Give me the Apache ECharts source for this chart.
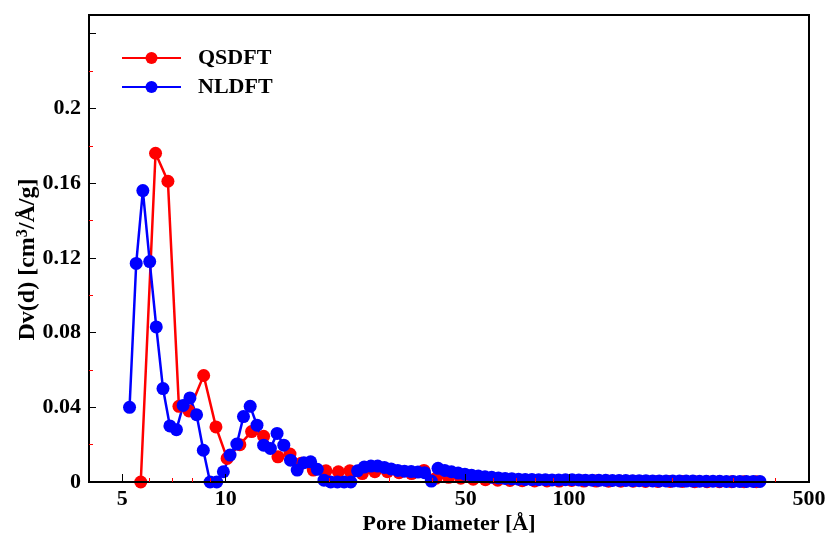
<!DOCTYPE html>
<html>
<head>
<meta charset="utf-8">
<script src="https://cdn.jsdelivr.net/npm/echarts@6/dist/echarts.min.js"></script>
<style>
  html, body { margin: 0; padding: 0; background: #fff; }
  #chart { width: 825px; height: 538px; }
</style>
</head>
<body>
<div id="chart"></div>
<script>
// pore size distribution (diameter in Å, Dv(d) in cm3/Å/g)
const qsdftDiameter = [5.66, 6.25, 6.79, 7.31, 7.82, 8.63, 9.37, 10.1, 11.0, 11.9, 12.9, 14.2, 15.4, 16.6, 18.0, 19.6, 21.3, 23.0, 25.0, 27.2, 29.6, 32.0, 34.8, 37.8, 41.0, 44.6, 48.4, 52.6, 57.1, 62.0, 67.3, 73.1, 79.4, 86.3, 93.7, 101.8, 110.5, 120.0, 130.4, 141.6, 153.8, 167.0, 181.4, 197.0, 214.0, 232.4, 252.4, 274.1, 297.7, 323.4, 351.2];
const qsdftDv = [0, 0.176, 0.161, 0.0405, 0.038, 0.057, 0.0295, 0.0126, 0.020, 0.027, 0.0245, 0.0135, 0.015, 0.010, 0.0064, 0.006, 0.0055, 0.006, 0.0045, 0.0055, 0.0055, 0.005, 0.0045, 0.0062, 0.002, 0.0025, 0.002, 0.0015, 0.0012, 0.001, 0.0008, 0.0007, 0.0006, 0.0006, 0.0005, 0.0008, 0.0005, 0.0005, 0.0004, 0.0004, 0.0004, 0.0003, 0.0003, 0.0003, 0.0003, 0.0002, 0.0002, 0.0002, 0.0002, 0.0002, 0.0002];

const nldftDiameter = [5.25, 5.49, 5.74, 6.01, 6.28, 6.57, 6.88, 7.19, 7.52, 7.87, 8.23, 8.61, 9.01, 9.42, 9.85, 10.30, 10.78, 11.27, 11.79, 12.34, 12.90, 13.50, 14.12, 14.77, 15.45, 16.16, 16.90, 17.68, 18.49, 19.34, 20.23, 21.16, 22.14, 23.15, 24.22, 25.33, 26.50, 27.72, 28.99, 30.33, 31.72, 33.18, 34.71, 36.31, 37.97, 39.72, 41.55, 43.46, 45.46, 47.55, 49.74, 52.03, 54.43, 56.93, 59.55, 62.29, 65.16, 68.16, 71.29, 74.58, 78.01, 81.60, 85.35, 89.28, 93.33, 97.63, 102.1, 106.8, 111.7, 116.9, 122.2, 127.9, 133.8, 139.9, 146.4, 153.1, 160.1, 167.5, 175.2, 183.2, 191.7, 200.5, 209.7, 219.4, 229.5, 240.0, 251.0, 262.6, 274.7, 287.3, 300.5, 314.4, 328.8, 344.0, 359.8];
const nldftDv = [0.040, 0.117, 0.156, 0.118, 0.083, 0.050, 0.030, 0.028, 0.041, 0.045, 0.036, 0.017, 0, 0, 0.0055, 0.0144, 0.0203, 0.035, 0.0405, 0.0304, 0.0197, 0.018, 0.026, 0.0197, 0.0117, 0.0064, 0.0103, 0.0108, 0.0068, 0.001, 0, 0, 0, 0, 0.006, 0.008, 0.0085, 0.0085, 0.0078, 0.007, 0.0062, 0.0058, 0.0056, 0.0053, 0.005, 0.0005, 0.0073, 0.0062, 0.0055, 0.0048, 0.0042, 0.0036, 0.0032, 0.0028, 0.0025, 0.0022, 0.0019, 0.0017, 0.0015, 0.0014, 0.0013, 0.0012, 0.0012, 0.0011, 0.0011, 0.0012, 0.0012, 0.0011, 0.001, 0.001, 0.0009, 0.0009, 0.0008, 0.0008, 0.0008, 0.0007, 0.0007, 0.0007, 0.0006, 0.0006, 0.0006, 0.0005, 0.0005, 0.0005, 0.0005, 0.0004, 0.0004, 0.0004, 0.0004, 0.0003, 0.0003, 0.0003, 0.0003, 0.0003, 0.0003];

const xMajorTicks = [5, 10, 50, 100, 500];
const xMinorTicks = [6, 7, 8, 9, 20, 30, 40, 60, 70, 80, 90, 200, 300, 400];
const yMajorTicks = [0, 0.04, 0.08, 0.12, 0.16, 0.2, 0.24];
const yLabels = [0, 0.04, 0.08, 0.12, 0.16, 0.2];
const yMinorTicks = [0.02, 0.06, 0.1, 0.14, 0.18, 0.22];

const chart = echarts.init(document.getElementById("chart"));

const font = "Liberation Serif";
const gridBox = { left: 89, right: 16, top: 15, bottom: 56, outerBoundsMode: "none" };

const pairs = (xs, ys) => xs.map((x, i) => [x, ys[i]]);

const option = {
  animation: false,
  backgroundColor: "#fff",
  legend: {
    orient: "vertical",
    left: 116,
    top: 42,
    itemWidth: 59,
    itemHeight: 15,
    itemGap: 7,
    textStyle: {
      fontFamily: font,
      fontWeight: "bold",
      fontSize: 22,
      color: "#000",
      padding: [0, 0, 0, 12],
    },
    data: ["QSDFT", "NLDFT"],
  },
  grid: [
    Object.assign({ show: true, borderColor: "#000", borderWidth: 2 }, gridBox),
    Object.assign({ show: false }, gridBox),
  ],
  xAxis: [
    {
      type: "log",
      logBase: 10,
      min: 4,
      max: 500,
      z: 10,
      name: "Pore Diameter [Å]",
      nameLocation: "middle",
      nameGap: 31,
      nameMoveOverlap: false,
      nameTextStyle: { fontFamily: font, fontWeight: "bold", fontSize: 22, color: "#000" },
      axisLine: { lineStyle: { color: "#000", width: 2 } },
      axisTick: { inside: true, length: 8, customValues: xMajorTicks, lineStyle: { color: "#000", width: 1 } },
      axisLabel: {
        customValues: xMajorTicks,
        margin: 6,
        fontFamily: font,
        fontWeight: "bold",
        fontSize: 22,
        color: "#000",
        formatter: (v) => String(v),
      },
      splitLine: { show: false },
      minorTick: { show: false },
    },
    {
      type: "log",
      logBase: 10,
      gridIndex: 1,
      min: 4,
      max: 500,
      z: 10,
      axisLine: { show: false },
      axisTick: { inside: true, length: 4, customValues: xMinorTicks, lineStyle: { color: "#ff0000", width: 1 } },
      axisLabel: { show: false },
      splitLine: { show: false },
    },
  ],
  yAxis: [
    {
      type: "value",
      min: 0,
      max: 0.25,
      z: 10,
      name: "Dv(d) [cm{sup|3}/Å/g]",
      nameLocation: "middle",
      nameGap: 48,
      nameMoveOverlap: false,
      nameTextStyle: {
        fontFamily: font,
        fontWeight: "bold",
        fontSize: 24,
        color: "#000",
        padding: [0, 22, 0, 0],
        rich: {
          sup: { fontFamily: font, fontWeight: "bold", fontSize: 16, color: "#000", verticalAlign: "top", padding: [0, 0, 10, 0] },
        },
      },
      axisLine: { show: true, lineStyle: { color: "#000", width: 2 } },
      axisTick: { show: true, inside: true, length: 7, customValues: yMajorTicks, lineStyle: { color: "#000", width: 1 } },
      axisLabel: {
        customValues: yLabels,
        margin: 8,
        fontFamily: font,
        fontWeight: "bold",
        fontSize: 22,
        color: "#000",
        formatter: (v) => String(v),
      },
      splitLine: { show: false },
    },
    {
      type: "value",
      gridIndex: 1,
      min: 0,
      max: 0.25,
      z: 10,
      axisLine: { show: false },
      axisTick: { show: true, inside: true, length: 4, customValues: yMinorTicks, lineStyle: { color: "#ff0000", width: 1 } },
      axisLabel: { show: false },
      splitLine: { show: false },
    },
  ],
  series: [
    {
      name: "QSDFT",
      type: "line",
      symbol: "circle",
      symbolSize: 13,
      showSymbol: true,
      showAllSymbol: true,
      itemStyle: { color: "#ff0000" },
      lineStyle: { color: "#ff0000", width: 2.5 },
      data: pairs(qsdftDiameter, qsdftDv),
    },
    {
      name: "NLDFT",
      type: "line",
      symbol: "circle",
      symbolSize: 13,
      showSymbol: true,
      showAllSymbol: true,
      itemStyle: { color: "#0000ff" },
      lineStyle: { color: "#0000ff", width: 2.5 },
      data: pairs(nldftDiameter, nldftDv),
    },
  ],
};

chart.setOption(option);
</script>
</body>
</html>
